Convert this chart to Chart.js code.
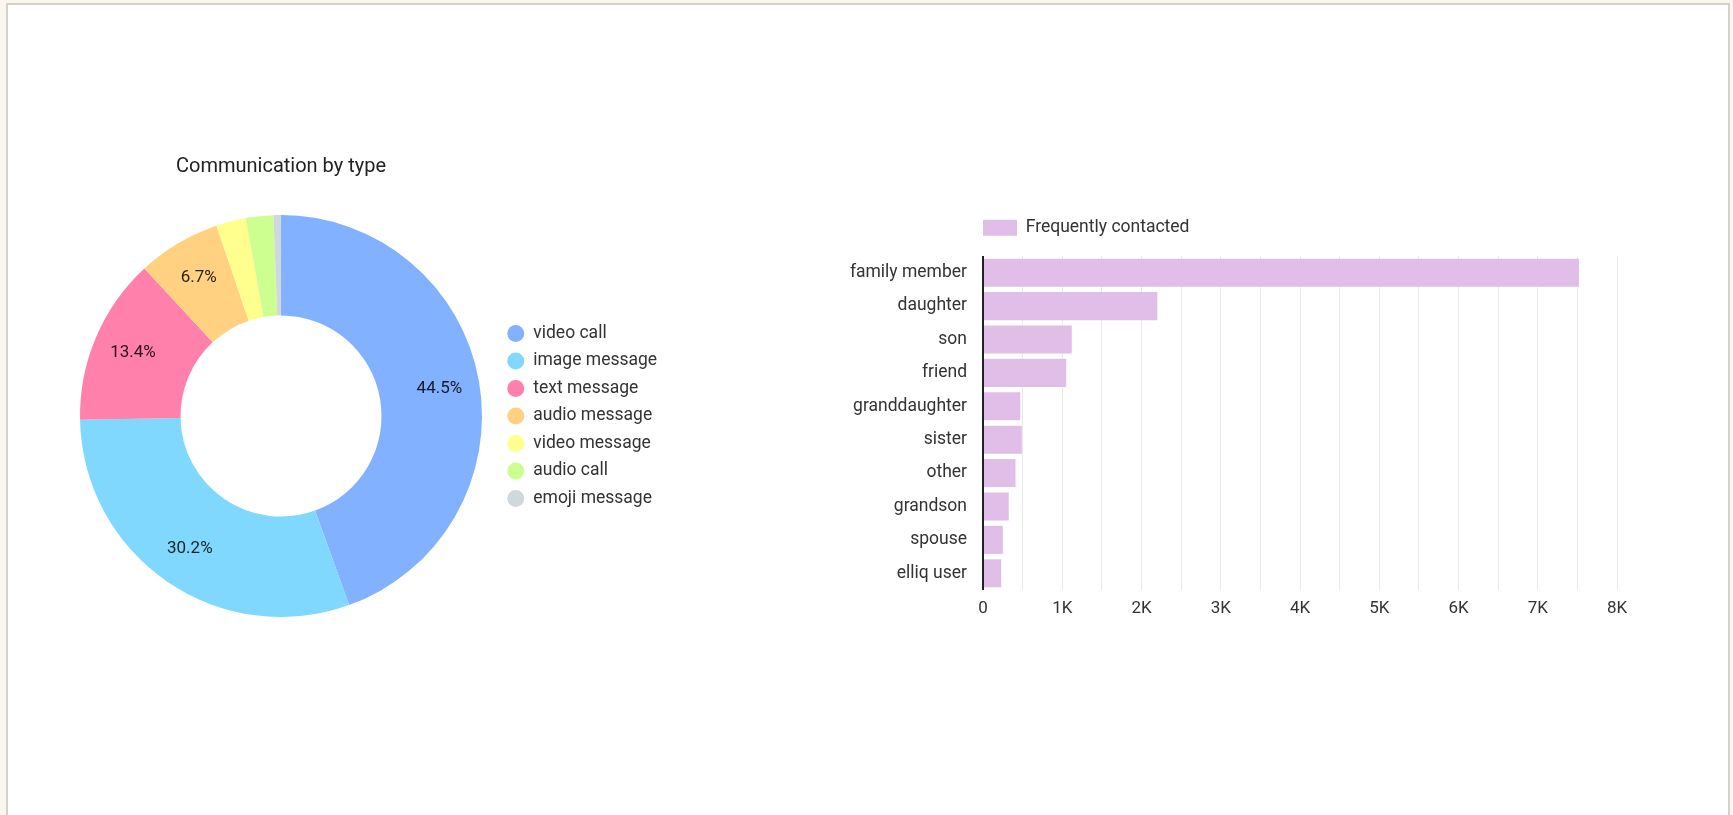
<!DOCTYPE html>
<html>
<head>
<meta charset="utf-8">
<title>Communication dashboard</title>
<script src="https://cdn.jsdelivr.net/npm/chart.js@4/dist/chart.umd.min.js"></script>
<style>
    html, body { margin: 0; padding: 0; }
    body {
        width: 1733px;
        height: 815px;
        overflow: hidden;
        background: #fbf7ef;
        position: relative;
        font-family: Roboto, sans-serif;
    }
    .card {
        position: absolute;
        left: 6px;
        top: 3px;
        width: 1720px;
        height: 900px;
        background: #ffffff;
        border: 2px solid #d4d2cf;
    }
    canvas { position: absolute; }
    #typeChart { left: 65px; top: 140px; }
    #contactChart { left: 843px; top: 219px; }
</style>
</head>
<body>
<div class="card"></div>
<canvas id="typeChart" width="632" height="477"></canvas>
<canvas id="contactChart" width="794" height="419"></canvas>

<script>
// --- Data ---
const typeLabels = ['video call', 'image message', 'text message', 'audio message', 'video message', 'audio call', 'emoji message'];
const typeShares = [44.5, 30.2, 13.4, 6.7, 2.4, 2.2, 0.6];
const typeColors = ['#82b1ff', '#80d8ff', '#ff80ab', '#ffd180', '#ffff8d', '#ccff90', '#cfd8dc'];

const contactLabels = ['family member', 'daughter', 'son', 'friend', 'granddaughter', 'sister', 'other', 'grandson', 'spouse', 'elliq user'];
const contactCounts = [7520, 2200, 1120, 1050, 470, 490, 410, 325, 250, 230];
const xTickValues = [0, 1000, 2000, 3000, 4000, 5000, 6000, 7000, 8000];
const xTickLabels = ['0', '1K', '2K', '3K', '4K', '5K', '6K', '7K', '8K'];

Chart.defaults.font.family = 'Roboto';
Chart.defaults.font.size = 17;
Chart.defaults.color = '#333333';
Chart.defaults.animation = false;

// Lets a chart pin its legend box to a fixed width / height
const fixLegendSize = {
    id: 'fixLegendSize',
    beforeLayout(chart, args, opts) {
        const legend = chart.legend;
        if (!legend || legend._sizePatched) return;
        const fit = legend.fit;
        legend.fit = function () {
            fit.call(this);
            if (opts.width) this.width = opts.width;
            if (opts.height) this.height = opts.height;
        };
        legend._sizePatched = true;
    }
};

// Percent labels inside the bigger slices
const sliceLabels = {
    id: 'sliceLabels',
    afterDatasetsDraw(chart) {
        const ctx = chart.ctx;
        const meta = chart.getDatasetMeta(0);
        ctx.save();
        ctx.font = '17px Roboto';
        ctx.fillStyle = 'rgba(0, 0, 0, 0.85)';
        ctx.textAlign = 'center';
        ctx.textBaseline = 'middle';
        meta.data.forEach((arc, i) => {
            const v = typeShares[i];
            if (v < 5) return;
            const p = arc.getProps(['x', 'y', 'startAngle', 'endAngle', 'innerRadius', 'outerRadius'], true);
            const mid = (p.startAngle + p.endAngle) / 2;
            const r = p.innerRadius + (p.outerRadius - p.innerRadius) * 0.6;
            ctx.fillText(v.toFixed(1) + '%', p.x + Math.cos(mid) * r, p.y + Math.sin(mid) * r);
        });
        ctx.restore();
    }
};

// --- Doughnut: communication by type ---
new Chart(document.getElementById('typeChart'), {
    type: 'doughnut',
    data: {
        labels: typeLabels,
        datasets: [{
            data: typeShares,
            backgroundColor: typeColors,
            borderWidth: 0
        }]
    },
    options: {
        responsive: false,
        cutout: '50%',
        plugins: {
            title: {
                display: true,
                text: 'Communication by type',
                fullSize: false,
                color: '#222222',
                font: { size: 20, weight: 'normal' },
                padding: { top: 15, bottom: 36 }
            },
            legend: {
                position: 'right',
                fullSize: false,
                labels: {
                    usePointStyle: true,
                    pointStyle: 'circle',
                    boxWidth: 18,
                    boxHeight: 12,
                    padding: 10,
                    color: '#333333',
                    font: { size: 17.5 }
                }
            },
            fixLegendSize: { width: 200 },
            tooltip: { enabled: false }
        }
    },
    plugins: [fixLegendSize, sliceLabels]
});

// --- Horizontal bars: frequently contacted ---
new Chart(document.getElementById('contactChart'), {
    type: 'bar',
    data: {
        labels: contactLabels,
        datasets: [{
            label: 'Frequently contacted',
            data: contactCounts,
            backgroundColor: '#e1bee7',
            borderWidth: 0,
            barPercentage: 0.84,
            categoryPercentage: 1
        }]
    },
    options: {
        responsive: false,
        indexAxis: 'y',
        layout: { padding: { right: 20 } },
        scales: {
            x: {
                min: 0,
                max: 8000,
                border: { display: false },
                grid: {
                    color: ctx => ctx.index === 0 ? '#222222' : '#e9e9e9',
                    lineWidth: ctx => ctx.index === 0 ? 2 : 1,
                    drawTicks: false
                },
                ticks: {
                    stepSize: 500,
                    autoSkip: false,
                    maxRotation: 0,
                    padding: 9,
                    color: '#333333',
                    callback: value => {
                        const i = xTickValues.indexOf(value);
                        return i === -1 ? '' : xTickLabels[i];
                    }
                },
                afterFit: scale => { scale.height = 48; }
            },
            y: {
                border: { display: false },
                grid: { display: false, drawTicks: false },
                ticks: { padding: 16, color: '#333333', font: { size: 17.5 } },
                afterFit: scale => { scale.width = 140; }
            }
        },
        plugins: {
            legend: {
                position: 'top',
                align: 'start',
                fullSize: false,
                labels: {
                    boxWidth: 34,
                    boxHeight: 16,
                    padding: 0,
                    color: '#333333',
                    font: { size: 17.5 }
                }
            },
            fixLegendSize: { height: 37 },
            tooltip: { enabled: false }
        }
    },
    plugins: [fixLegendSize]
});
</script>
</body>
</html>
